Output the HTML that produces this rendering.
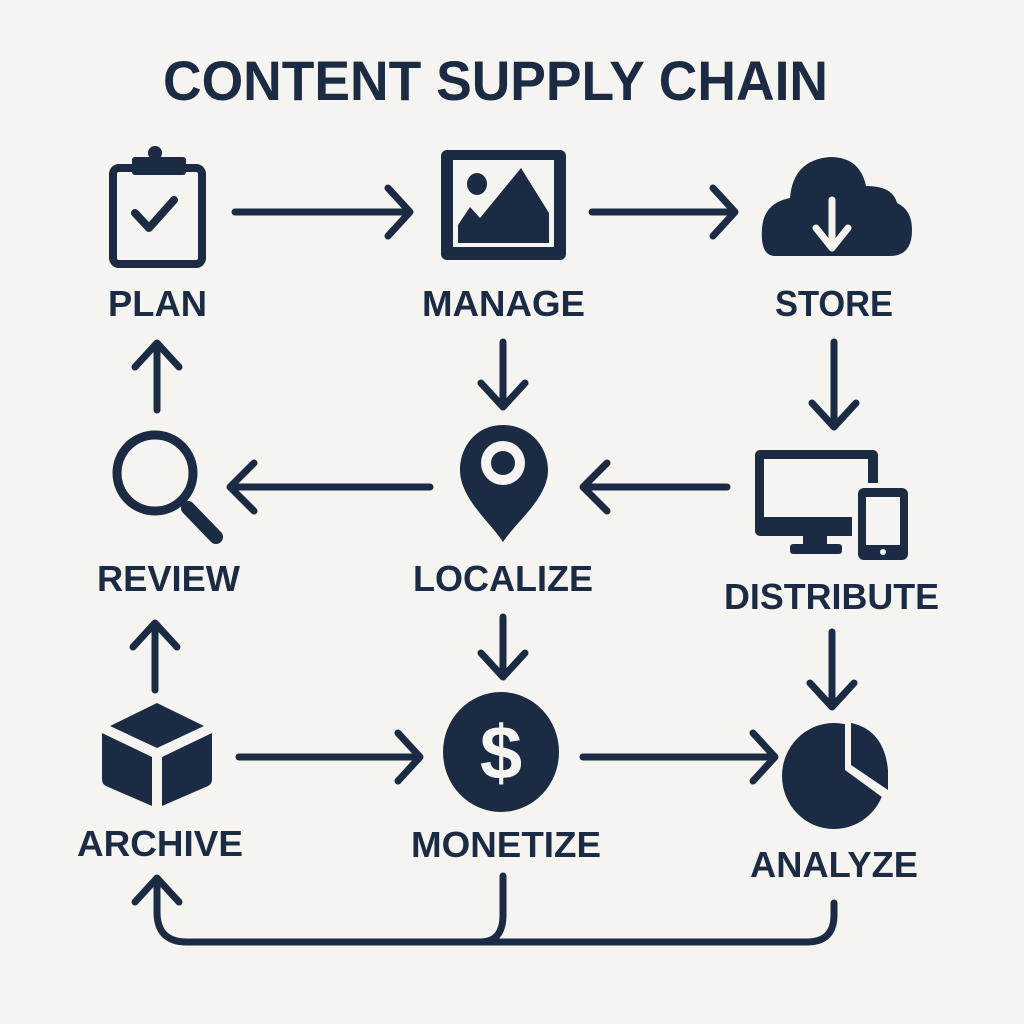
<!DOCTYPE html>
<html><head><meta charset="utf-8"><style>
html,body{margin:0;padding:0;background:#f6f4f1;}
svg{display:block;}
text{font-family:"Liberation Sans",sans-serif;font-weight:bold;fill:#1a2b43;}
</style></head><body>
<svg width="1024" height="1024" viewBox="0 0 1024 1024" xmlns="http://www.w3.org/2000/svg">
<rect width="1024" height="1024" fill="#f6f4f1"/>
<text x="163" y="100" font-size="56" textLength="665" lengthAdjust="spacingAndGlyphs">CONTENT SUPPLY CHAIN</text>
<g fill="none" stroke="#1a2b43" stroke-width="7" stroke-linecap="round" stroke-linejoin="round">
<path d="M235 212H408M388 188L410 212L388 236"/>
<path d="M592 212H733M713 188L735 212L713 236"/>
<path d="M157 410V345M135 367L157 343L179 367"/>
<path d="M503 342V405M481 383L503 407L525 383"/>
<path d="M834 342V425M812 403L834 427L856 403"/>
<path d="M430 487H232M254 463L230 487L254 511"/>
<path d="M727 487H585M607 463L583 487L607 511"/>
<path d="M155 690V625M133 647L155 623L177 647"/>
<path d="M503 617V675M481 653L503 677L525 653"/>
<path d="M832 632V705M810 683L832 707L854 683"/>
<path d="M239 757H418M398 733L420 757L398 781"/>
<path d="M583 757H773M753 733L775 757L753 781"/>
<path d="M834 903V915Q834 942 807 942H187Q157 942 157 912V880M135 902L157 878L179 902"/>
<path d="M503 876V915Q503 942 480 942"/>
<rect x="113" y="168" width="89" height="96" rx="6" stroke-width="8"/>
<path d="M135 213L149 228L174 200" stroke-width="8"/>
<circle cx="155" cy="473" r="38" stroke-width="9"/>
<path d="M188 508L216 537" stroke-width="14"/>
</g>
<g fill="#1a2b43">
<rect x="132" y="157" width="54" height="18" rx="3"/>
<circle cx="155" cy="153" r="7"/>
<rect x="441" y="150" width="125" height="110" rx="6"/>
<rect x="453" y="160" width="101" height="87" fill="#f6f4f1"/>
<ellipse cx="477" cy="184" rx="10" ry="11"/>
<path d="M458 225L470 207L480 218L521 168L549 213V243H458Z"/>
<path d="M775 256Q760 256 762 228Q764 203 790 198Q793 160 830 157Q860 157 866 186Q893 186 897 203Q912 210 912 230Q912 256 890 256Z"/>
<path d="M832 200V244M816 228L832 248L848 228" fill="none" stroke="#f6f4f1" stroke-width="7" stroke-linecap="round" stroke-linejoin="round"/>
<path d="M503 425C476 425 460 447 460 470C460 498 490 522 503 542C516 522 548 498 548 470C548 447 530 425 503 425Z"/>
<circle cx="503" cy="463" r="22" fill="#f6f4f1"/>
<circle cx="503" cy="463" r="12"/>
<rect x="755" y="450" width="123" height="86" rx="5"/>
<rect x="764" y="459" width="104" height="58" fill="#f6f4f1"/>
<rect x="803" y="534" width="24" height="12"/>
<rect x="790" y="544" width="52" height="10" rx="3"/>
<rect x="852" y="483" width="62" height="82" rx="7" fill="#f6f4f1"/>
<rect x="858" y="488" width="50" height="72" rx="6"/>
<rect x="866" y="497" width="34" height="48" fill="#f6f4f1"/>
<circle cx="883" cy="552" r="3" fill="#f6f4f1"/>
<path d="M157 703L204 726L157 748L110 726Z"/>
<path d="M102 733L152 757V806L106 786Q102 784 102 779Z"/>
<path d="M212 733L162 757V806L208 786Q212 784 212 779Z"/>
<ellipse cx="501" cy="752" rx="58" ry="60"/>
<text x="501" y="779" font-size="76" text-anchor="middle" style="fill:#f6f4f1;">$</text>
<ellipse cx="834" cy="776" rx="52" ry="53"/>
<path d="M845 723L845 770L886 800L890 760Q885 728 845 723Z" fill="#f6f4f1"/>
<path d="M851 723Q884 730 888 770L888 790L851 765Z"/>
</g>
<text x="108" y="316" font-size="36" textLength="99" lengthAdjust="spacingAndGlyphs">PLAN</text>
<text x="422" y="316" font-size="36" textLength="163" lengthAdjust="spacingAndGlyphs">MANAGE</text>
<text x="775" y="316" font-size="36" textLength="118" lengthAdjust="spacingAndGlyphs">STORE</text>
<text x="97" y="591" font-size="36" textLength="143" lengthAdjust="spacingAndGlyphs">REVIEW</text>
<text x="413" y="591" font-size="36" textLength="180" lengthAdjust="spacingAndGlyphs">LOCALIZE</text>
<text x="724" y="609" font-size="36" textLength="215" lengthAdjust="spacingAndGlyphs">DISTRIBUTE</text>
<text x="77" y="856" font-size="36" textLength="166" lengthAdjust="spacingAndGlyphs">ARCHIVE</text>
<text x="411" y="857" font-size="36" textLength="190" lengthAdjust="spacingAndGlyphs">MONETIZE</text>
<text x="750" y="877" font-size="36" textLength="168" lengthAdjust="spacingAndGlyphs">ANALYZE</text>
</svg>
</body></html>
